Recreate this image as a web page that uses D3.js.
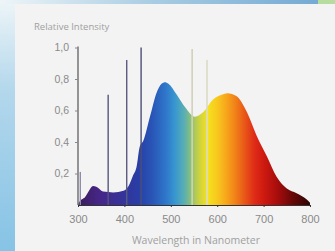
<!DOCTYPE html>
<html>
<head>
<meta charset="utf-8">
<script src="https://cdn.jsdelivr.net/npm/d3@7"></script>
<style>
  body { margin: 0; background: #f3f3f3; }
  svg { display: block; font-family: "Open Sans", sans-serif; }
</style>
</head>
<body>
<div id="chart"></div>
<script>
// spectrum outline (wavelength in nm, relative intensity)
const wavelengths = [300, 303, 315, 333, 343, 354, 376, 398, 409, 419, 426, 433, 441, 455, 469, 480, 487, 495, 513, 531, 552, 570, 591, 610, 622, 642, 664, 685, 707, 728, 750, 771, 793, 800];
const intensity   = [0.0, 0.02, 0.05, 0.12, 0.11, 0.085, 0.08, 0.09, 0.12, 0.19, 0.24, 0.37, 0.41, 0.56, 0.71, 0.77, 0.78, 0.77, 0.70, 0.62, 0.56, 0.59, 0.67, 0.70, 0.71, 0.69, 0.59, 0.44, 0.31, 0.18, 0.105, 0.075, 0.035, 0.015];

// mercury emission lines
const lineWl  = [305, 365, 405, 436, 546, 578];
const lineVal = [0.21, 0.70, 0.92, 1.0, 0.99, 0.92];
const lineCol = ['#8f8aae', '#55567c', '#5a5b80', '#4e4f74', '#d3d0b8', '#dcdac4'];

// colour ramp of the fill, by wavelength
const rampWl  = [300, 350, 400, 430, 460, 490, 510, 530, 545, 560, 580, 600, 620, 640, 660, 680, 700, 730, 760, 800];
const rampCol = ['#3a1c5c', '#46278a', '#35349a', '#283ea6', '#2955b6', '#2e78cb', '#3a98cf', '#5cb0b0', '#90c272', '#c9d142', '#f5e11f', '#f8c81e', '#f7a51b', '#f07f18', '#e85518', '#df2c17', '#cf1a10', '#a60d0c', '#6c0808', '#2c0606'];

const yTicks = [0.2, 0.4, 0.6, 0.8, 1.0];
const xTicks = [300, 400, 500, 600, 700, 800];

const width = 335, height = 251;
const svg = d3.select('#chart').append('svg')
  .attr('width', width)
  .attr('height', height);

const defs = svg.append('defs');

// page decoration: blue strips round the panel
const topGrad = defs.append('linearGradient').attr('id', 'topStrip');
topGrad.append('stop').attr('offset', '0%').attr('stop-color', '#eef5f8');
topGrad.append('stop').attr('offset', '45%').attr('stop-color', '#a9cde3');
topGrad.append('stop').attr('offset', '100%').attr('stop-color', '#6ea6d2');

const leftGrad = defs.append('linearGradient').attr('id', 'leftStrip')
  .attr('x1', 0).attr('x2', 0).attr('y1', 0).attr('y2', 1);
leftGrad.append('stop').attr('offset', '0%').attr('stop-color', '#eef5f8');
leftGrad.append('stop').attr('offset', '35%').attr('stop-color', '#b4d8ec');
leftGrad.append('stop').attr('offset', '100%').attr('stop-color', '#86c3e5');

svg.append('rect').attr('x', 0).attr('y', 0).attr('width', width).attr('height', height).attr('fill', 'url(#leftStrip)');
svg.append('rect').attr('x', 0).attr('y', 0).attr('width', width).attr('height', 4).attr('fill', 'url(#topStrip)');
svg.append('rect').attr('x', 318).attr('y', 0).attr('width', 17).attr('height', 4).attr('fill', '#b6dca0');
svg.append('rect').attr('x', 15).attr('y', 4).attr('width', 320).attr('height', 247).attr('fill', '#f3f3f3');

const x = d3.scaleLinear().domain([300, 800]).range([78, 310]);
const y = d3.scaleLinear().domain([0, 1]).range([205, 47.5]);

// spectrum gradient in user space so the colours follow the x scale
const spec = defs.append('linearGradient').attr('id', 'spectrum')
  .attr('gradientUnits', 'userSpaceOnUse')
  .attr('x1', x(300)).attr('x2', x(800)).attr('y1', 0).attr('y2', 0);
rampWl.forEach((w, i) => {
  spec.append('stop')
    .attr('offset', ((w - 300) / 500 * 100) + '%')
    .attr('stop-color', rampCol[i]);
});

const pts = wavelengths.map((w, i) => [w, intensity[i]]);
const area = d3.area()
  .x(d => x(d[0]))
  .y0(y(0))
  .y1(d => y(d[1]))
  .curve(d3.curveMonotoneX);

svg.append('path')
  .datum(pts)
  .attr('d', area)
  .attr('fill', 'url(#spectrum)');

// emission lines
svg.selectAll('.hg')
  .data(lineWl)
  .enter()
  .append('line')
  .attr('class', 'hg')
  .attr('x1', d => x(d))
  .attr('x2', d => x(d))
  .attr('y1', y(0))
  .attr('y2', (d, i) => y(lineVal[i]))
  .attr('stroke', (d, i) => lineCol[i])
  .attr('stroke-width', (d, i) => i >= 4 ? 1.6 : 1.4);

// axes
const yAxis = svg.append('g')
  .attr('transform', `translate(${x(300)},0)`)
  .call(d3.axisLeft(y).tickValues(yTicks).tickSize(3).tickPadding(6)
    .tickFormat(d => d3.format('.1f')(d).replace('.', ',')));
yAxis.select('.domain').attr('d', `M0,${y(1.0) - 1}V${y(0)}`).attr('stroke', '#6a6a6a').attr('stroke-width', 1.4);
yAxis.selectAll('.tick line').attr('stroke', '#888');
yAxis.selectAll('.tick text').attr('fill', '#8a8a8a').attr('font-size', 10.5);

const xAxis = svg.append('g')
  .attr('transform', `translate(0,${y(0)})`)
  .call(d3.axisBottom(x).tickValues(xTicks).tickSize(2).tickPadding(8));
xAxis.select('.domain').attr('stroke', '#333').attr('stroke-width', 1);
xAxis.selectAll('.tick line').attr('stroke', '#333');
xAxis.selectAll('.tick text').attr('fill', '#8a8a8a').attr('font-size', 11);

svg.append('text')
  .attr('x', 34).attr('y', 30)
  .attr('fill', '#a0a0a0')
  .attr('font-size', 9.5)
  .text('Relative Intensity');

svg.append('text')
  .attr('x', 196).attr('y', 244)
  .attr('text-anchor', 'middle')
  .attr('fill', '#a0a0a0')
  .attr('font-size', 10.5)
  .text('Wavelength in Nanometer');
</script>
</body>
</html>
